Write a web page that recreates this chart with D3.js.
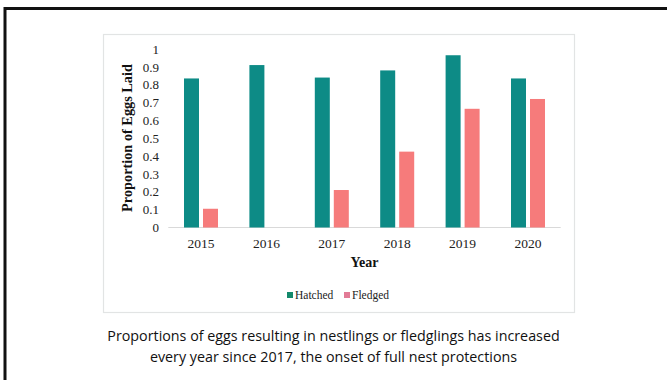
<!DOCTYPE html>
<html>
<head>
<meta charset="utf-8">
<script src="https://cdn.jsdelivr.net/npm/d3@7"></script>
<style>
  html, body { margin: 0; padding: 0; background: #fff; }
  svg { display: block; }
</style>
</head>
<body>
<div id="chart"></div>
<script>
// data
const years = ["2015", "2016", "2017", "2018", "2019", "2020"];
const hatched = [0.835, 0.91, 0.84, 0.88, 0.965, 0.835];
const fledged = [0.105, 0, 0.21, 0.425, 0.665, 0.72];
const seriesNames = ["Hatched", "Fledged"];
const yTicks = [0, 0.1, 0.2, 0.3, 0.4, 0.5, 0.6, 0.7, 0.8, 0.9, 1];
const caption = [
  "Proportions of eggs resulting in nestlings or fledglings has increased",
  "every year since 2017, the onset of full nest protections"
];

const W = 667, H = 380;
const colors = { Hatched: "#0d8b86", Fledged: "#f67b7b" };
const legendColors = { Hatched: "#13896b", Fledged: "#e27b96" };
const serif = "'Liberation Serif', 'Times New Roman', serif";

const svg = d3.select("#chart").append("svg")
  .attr("width", W).attr("height", H)
  .attr("viewBox", `0 0 ${W} ${H}`);

// slide frame (top and left edges only show)
svg.append("line").attr("x1", 5).attr("x2", W).attr("y1", 8.5).attr("y2", 8.5)
  .attr("stroke", "#111").attr("stroke-width", 3);
svg.append("line").attr("x1", 5).attr("x2", 5).attr("y1", 7).attr("y2", H)
  .attr("stroke", "#111").attr("stroke-width", 3);

// chart box
svg.append("rect").attr("x", 103.5).attr("y", 34.5).attr("width", 471).attr("height", 278)
  .attr("fill", "#fff").attr("stroke", "#e2e4e4").attr("stroke-width", 1.2);

const x = d3.scaleBand().domain(years).range([168.3, 560.7]);
const xSub = d3.scaleBand().domain(seriesNames).range([15.7, 49.7]).paddingInner(4 / 19);
const y = d3.scaleLinear().domain([0, 1]).range([227.5, 49]);

const table = years.map((yr, i) => ({ year: yr, Hatched: hatched[i], Fledged: fledged[i] }));

// baseline
svg.append("line").attr("x1", x.range()[0]).attr("x2", x.range()[1])
  .attr("y1", y(0)).attr("y2", y(0)).attr("stroke", "#d9d9d9");

// bars
const groups = svg.append("g").selectAll("g").data(table).join("g")
  .attr("transform", d => `translate(${x(d.year)},0)`);
groups.selectAll("rect")
  .data(d => seriesNames.map(k => ({ key: k, value: d[k] })))
  .join("rect")
  .attr("x", d => xSub(d.key))
  .attr("width", xSub.bandwidth())
  .attr("y", d => y(d.value))
  .attr("height", d => y(0) - y(d.value))
  .attr("fill", d => colors[d.key]);

// y axis labels
const yAxis = svg.append("g").attr("transform", "translate(159,0)")
  .attr("font-family", serif)
  .call(d3.axisLeft(y).tickValues(yTicks).tickSize(0).tickPadding(0).tickFormat(d3.format("")));
yAxis.attr("font-family", serif).attr("font-size", 13);
yAxis.select(".domain").remove();
yAxis.selectAll("text").attr("fill", "#222");

// x axis labels
const xAxis = svg.append("g").attr("transform", `translate(0,${y(0)})`)
  .call(d3.axisBottom(x).tickSize(0).tickPadding(11));
xAxis.attr("font-family", serif).attr("font-size", 13.5);
xAxis.select(".domain").remove();
xAxis.selectAll("text").attr("fill", "#222");

// axis titles
svg.append("text").attr("transform", "translate(132,138) rotate(-90)")
  .attr("text-anchor", "middle").attr("font-family", serif).attr("font-weight", "bold")
  .attr("font-size", 14.3).attr("fill", "#111").text("Proportion of Eggs Laid");
svg.append("text").attr("x", 364.5).attr("y", 267)
  .attr("text-anchor", "middle").attr("font-family", serif).attr("font-weight", "bold")
  .attr("font-size", 14).attr("fill", "#111").text("Year");

// legend
const legend = svg.append("g").attr("transform", "translate(0,299)");
const legendX = [287, 344];
seriesNames.forEach((s, i) => {
  legend.append("rect").attr("x", legendX[i]).attr("y", -7).attr("width", 6).attr("height", 6)
    .attr("fill", legendColors[s]);
  legend.append("text").attr("x", legendX[i] + 8).attr("y", 0)
    .attr("font-family", serif).attr("font-size", 11.5).attr("fill", "#222").text(s);
});

// caption
svg.append("g").selectAll("text").data(caption).join("text")
  .attr("x", 333.5).attr("y", (d, i) => 341 + i * 21)
  .attr("text-anchor", "middle")
  .attr("font-family", "'Open Sans', 'Noto Sans', sans-serif")
  .attr("font-size", 14.3).attr("fill", "#111")
  .text(d => d);
</script>
</body>
</html>
